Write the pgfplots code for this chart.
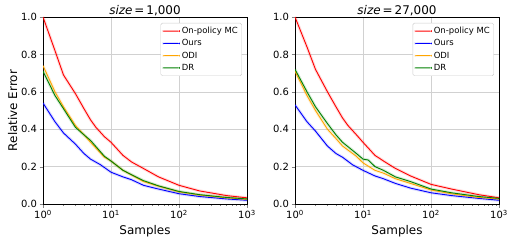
\documentclass[border=0pt]{standalone}
\usepackage{fontspec}
\setmainfont{DejaVu Sans}
\usepackage{pgfplots}
\usepackage{pgfplotstable}
\usepgfplotslibrary{groupplots}
\pgfplotsset{compat=1.18}

\definecolor{mred}{RGB}{255,0,0}
\definecolor{mblue}{RGB}{0,0,255}
\definecolor{morange}{RGB}{255,165,0}
\definecolor{mgreen}{RGB}{0,128,0}

\pgfplotstableread{
x y
1 1.00
1.5 0.82
2 0.69
3 0.59
4 0.51
5 0.45
6 0.41
8 0.36
10 0.33
15 0.26
20 0.225
30 0.19
50 0.145
100 0.10
200 0.07
500 0.045
1000 0.033
}\LRed
\pgfplotstableread{
x y
1 0.54
1.5 0.44
2 0.38
3 0.32
4 0.27
5 0.24
7 0.21
10 0.17
15 0.145
20 0.13
30 0.10
50 0.08
100 0.055
200 0.04
500 0.027
1000 0.02
}\LBlue
\pgfplotstableread{
x y
1 0.74
1.5 0.60
2 0.52
3 0.42
4 0.37
5 0.33
8 0.25
10 0.23
15 0.18
20 0.155
30 0.12
50 0.095
100 0.065
200 0.048
500 0.033
1000 0.025
}\LOdi
\pgfplotstableread{
x y
1 0.71
1.5 0.58
2 0.51
3 0.41
4 0.37
5 0.34
8 0.255
10 0.23
15 0.18
20 0.157
30 0.125
50 0.097
100 0.067
200 0.05
500 0.035
1000 0.027
}\LDr

\pgfplotstableread{
x y
1 1.00
1.5 0.84
2 0.72
3 0.60
4 0.52
5 0.46
6 0.42
8 0.37
10 0.33
15 0.26
20 0.23
30 0.19
50 0.15
100 0.105
200 0.08
500 0.05
1000 0.033
}\RRed
\pgfplotstableread{
x y
1 0.53
1.5 0.44
2 0.39
3 0.31
4 0.27
5 0.25
7 0.21
10 0.18
15 0.15
20 0.135
30 0.11
50 0.085
100 0.06
200 0.045
500 0.03
1000 0.02
}\RBlue
\pgfplotstableread{
x y
1 0.71
1.5 0.58
2 0.50
3 0.40
4 0.35
5 0.31
8 0.255
10 0.22
15 0.18
20 0.165
30 0.135
50 0.11
100 0.075
200 0.055
500 0.035
1000 0.027
}\ROdi
\pgfplotstableread{
x y
1 0.72
1.5 0.60
2 0.52
3 0.43
4 0.37
5 0.33
8 0.27
10 0.24
12 0.235
15 0.20
20 0.18
30 0.145
50 0.12
100 0.08
200 0.06
500 0.04
1000 0.03
}\RDr

\begin{document}
\begin{tikzpicture}
\begin{groupplot}[
  group style={group size=2 by 1, horizontal sep=48bp},
  scale only axis, width=204bp, height=187bp,
  xmode=log, xmin=1, xmax=1000, ymin=0, ymax=1,
  xtick={1,10,100,1000},
  xticklabels={10\textsuperscript{0},10\textsuperscript{1},10\textsuperscript{2},10\textsuperscript{3}},
  minor xtick={2,3,4,5,6,7,8,9,20,30,40,50,60,70,80,90,200,300,400,500,600,700,800,900},
  ytick={0,0.2,0.4,0.6,0.8,1.0},
  yticklabel style={/pgf/number format/fixed,/pgf/number format/fixed zerofill,/pgf/number format/precision=1,/pgf/number format/assume math mode=true},
  grid=major, major grid style={black!18, line width=0.6pt},
  tick align=outside, tick pos=left,
  major tick length=3.5bp, minor tick length=2bp,
  axis line style={line width=0.7pt},
  tick label style={font=\fontsize{10}{12}\selectfont},
  xticklabel style={yshift=1bp},
  yticklabel style={xshift=1bp},
  label style={font=\fontsize{12}{14}\selectfont},
  ylabel style={yshift=-3bp},
  title style={font=\fontsize{12}{14}\selectfont, yshift=-8bp},
  xlabel={Samples},
  legend style={at={(0.975,0.968)}, anchor=north east, font=\fontsize{8.5}{10}\selectfont,
    draw=black!20, rounded corners=1.5pt, inner sep=2pt, row sep=0.5pt},
  legend cell align=left,
]
\nextgroupplot[ylabel={Relative Error}, title={{\itshape size}\,=\,1,000}]
\addplot[mred, opacity=0.15, line width=3pt, forget plot] table[x=x,y=y] {\LRed};
\addplot[mblue, opacity=0.15, line width=3pt, forget plot] table[x=x,y=y] {\LBlue};
\addplot[morange, opacity=0.15, line width=3pt, forget plot] table[x=x,y=y] {\LOdi};
\addplot[mgreen, opacity=0.15, line width=3pt, forget plot] table[x=x,y=y] {\LDr};
\addplot[mred, line width=0.9pt, forget plot] table[x=x,y=y] {\LRed};
\addplot[mblue, line width=0.9pt, forget plot] table[x=x,y=y] {\LBlue};
\addplot[morange, line width=0.9pt, forget plot] table[x=x,y=y] {\LOdi};
\addplot[mgreen, line width=0.9pt, forget plot] table[x=x,y=y] {\LDr};
\addlegendimage{legend image code/.code={\fill[fill=mred, draw=none] (0cm,-0.5pt) rectangle (0.6cm,0.5pt);}}
\addlegendentry{On-policy MC}
\addlegendimage{legend image code/.code={\fill[fill=mblue, draw=none] (0cm,-0.5pt) rectangle (0.6cm,0.5pt);}}
\addlegendentry{Ours}
\addlegendimage{legend image code/.code={\fill[fill=morange, draw=none] (0cm,-0.5pt) rectangle (0.6cm,0.5pt);}}
\addlegendentry{ODI}
\addlegendimage{legend image code/.code={\fill[fill=mgreen, draw=none] (0cm,-0.5pt) rectangle (0.6cm,0.5pt);}}
\addlegendentry{DR}
\nextgroupplot[title={{\itshape size}\,=\,27,000}]
\addplot[mred, opacity=0.15, line width=3pt, forget plot] table[x=x,y=y] {\RRed};
\addplot[mblue, opacity=0.15, line width=3pt, forget plot] table[x=x,y=y] {\RBlue};
\addplot[morange, opacity=0.15, line width=3pt, forget plot] table[x=x,y=y] {\ROdi};
\addplot[mgreen, opacity=0.15, line width=3pt, forget plot] table[x=x,y=y] {\RDr};
\addplot[mred, line width=0.9pt, forget plot] table[x=x,y=y] {\RRed};
\addplot[mblue, line width=0.9pt, forget plot] table[x=x,y=y] {\RBlue};
\addplot[morange, line width=0.9pt, forget plot] table[x=x,y=y] {\ROdi};
\addplot[mgreen, line width=0.9pt, forget plot] table[x=x,y=y] {\RDr};
\addlegendimage{legend image code/.code={\fill[fill=mred, draw=none] (0cm,-0.5pt) rectangle (0.6cm,0.5pt);}}
\addlegendentry{On-policy MC}
\addlegendimage{legend image code/.code={\fill[fill=mblue, draw=none] (0cm,-0.5pt) rectangle (0.6cm,0.5pt);}}
\addlegendentry{Ours}
\addlegendimage{legend image code/.code={\fill[fill=morange, draw=none] (0cm,-0.5pt) rectangle (0.6cm,0.5pt);}}
\addlegendentry{ODI}
\addlegendimage{legend image code/.code={\fill[fill=mgreen, draw=none] (0cm,-0.5pt) rectangle (0.6cm,0.5pt);}}
\addlegendentry{DR}
\end{groupplot}
\pgfresetboundingbox
\path[use as bounding box] (group c1r1.south west) ++(-43bp,-40bp) rectangle ++(510bp,244bp);
\end{tikzpicture}
\end{document}
